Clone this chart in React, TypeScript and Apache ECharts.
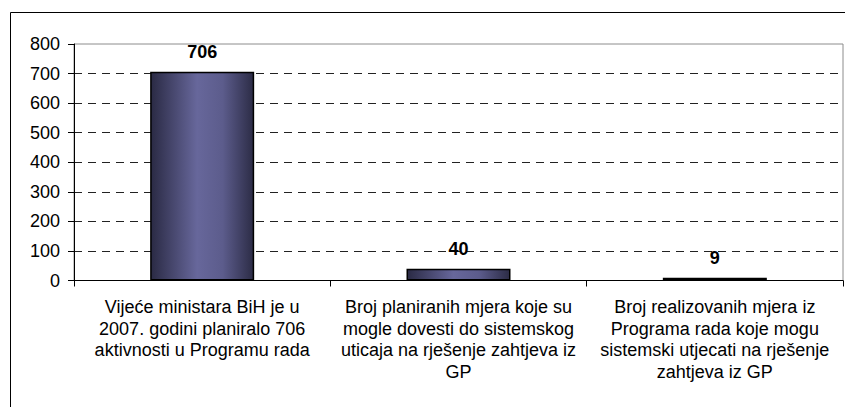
import React, { useEffect, useRef } from "react";
import * as echarts from "echarts";

const categories: string[] = [
  "Vijeće ministara BiH je u\n2007. godini planiralo 706\naktivnosti u Programu rada",
  "Broj planiranih mjera koje su\nmogle dovesti do sistemskog\nuticaja na rješenje zahtjeva iz\nGP",
  "Broj realizovanih mjera iz\nPrograma rada koje mogu\nsistemski utjecati na rješenje\nzahtjeva iz GP",
];
const values: number[] = [706, 40, 9];
const yMin = 0;
const yMax = 800;
const yStep = 100;

const FONT = "'Liberation Sans', Arial, sans-serif";

export default function App() {
  const ref = useRef<HTMLDivElement>(null);
  useEffect(() => {
    if (!ref.current) return;
    const chart = echarts.init(ref.current, undefined, { renderer: "svg" });
    const barGradient = new echarts.graphic.LinearGradient(0, 0, 1, 0, [
      { offset: 0, color: "#2a2a44" },
      { offset: 0.45, color: "#67679b" },
      { offset: 0.7, color: "#5c5c8c" },
      { offset: 1, color: "#2c2c46" },
    ]);
    chart.setOption({
      animation: false,
      backgroundColor: "#ffffff",
      textStyle: { fontFamily: FONT },
      graphic: [
        {
          type: "rect",
          shape: { x: 10.5, y: 12.5, width: 900, height: 500 },
          style: { fill: "none", stroke: "#000", lineWidth: 1 },
          z: 100,
        },
      ],
      grid: {
        left: 74,
        top: 44,
        right: 2,
        bottom: 126.5,
        show: true,
        borderColor: "#8c8c8c",
        borderWidth: 1,
        backgroundColor: "transparent",
      },
      xAxis: {
        type: "category",
        data: categories,
        axisLine: { show: true, lineStyle: { color: "#000", width: 1 } },
        axisTick: { show: true, length: 6, lineStyle: { color: "#000" } },
        axisLabel: {
          interval: 0,
          margin: 16,
          fontSize: 18,
          lineHeight: 21.5,
          color: "#000",
          fontFamily: FONT,
          align: "center",
        },
      },
      yAxis: {
        type: "value",
        min: yMin,
        max: yMax,
        interval: yStep,
        axisLine: { show: true, lineStyle: { color: "#000", width: 1 } },
        axisTick: { show: true, length: 6, lineStyle: { color: "#000" } },
        axisLabel: { margin: 14, fontSize: 18, color: "#000", fontFamily: FONT },
        splitLine: {
          show: true,
          showMaxLine: false,
          showMinLine: false,
          lineStyle: { color: "#222", type: [8, 6], width: 1 },
        },
      },
      series: [
        {
          type: "bar",
          data: values,
          barWidth: 104,
          itemStyle: { color: barGradient, borderColor: "#000", borderWidth: 1.5 },
          label: {
            show: true,
            position: "top",
            distance: 10.5,
            fontSize: 18,
            fontWeight: "bold",
            color: "#000",
            fontFamily: FONT,
          },
        },
      ],
    });
    return () => chart.dispose();
  }, []);
  return (
    <div
      ref={ref}
      style={{ position: "fixed", left: 0, top: 0, width: 845, height: 407 }}
    />
  );
}
